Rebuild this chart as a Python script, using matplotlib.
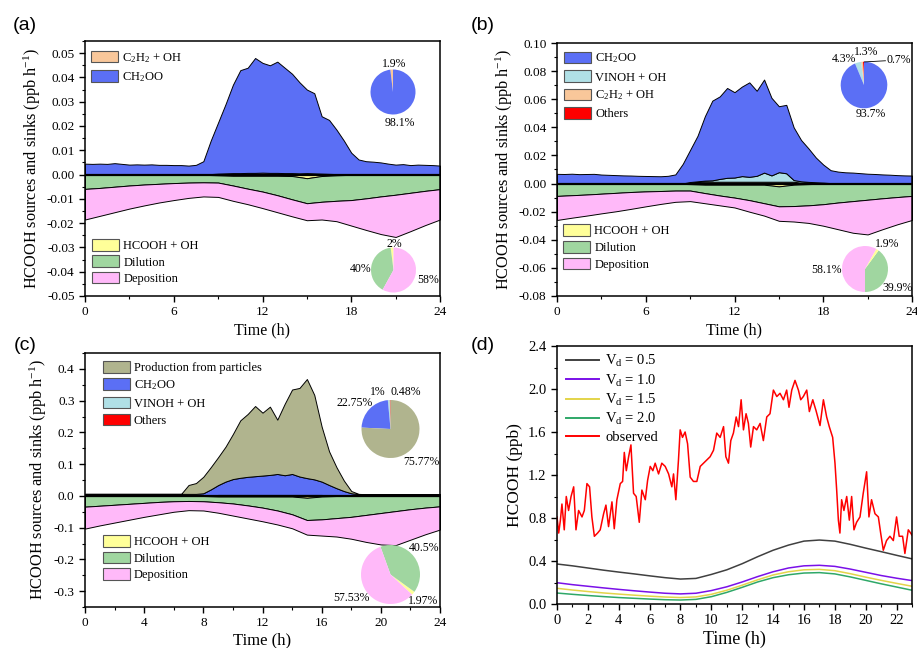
import numpy as np
import matplotlib.pyplot as plt
from matplotlib.patches import Patch
from matplotlib.lines import Line2D
from matplotlib.legend import Legend
from matplotlib.ticker import MultipleLocator, FuncFormatter

W, H = 917, 648

plt.rcParams["font.family"] = ["Liberation Serif", "DejaVu Serif"]
plt.rcParams["mathtext.fontset"] = "custom"
plt.rcParams["mathtext.rm"] = "Liberation Serif"
plt.rcParams["mathtext.it"] = "Liberation Serif:italic"
plt.rcParams["axes.unicode_minus"] = False

BLUE = "#5b6ff5"
ORANGE = "#f9c79a"
LIGHTBLUE = "#b0e0e6"
RED = "#ff0000"
YELLOW = "#ffff99"
GREEN = "#a0d6a0"
PINK = "#ffb9f9"
OLIVE = "#b0b48e"

# time axes
t_src = np.arange(0, 24.01, 0.5)   # sources, every 30 min
t_sink = np.arange(0, 25, 1)       # sinks, hourly
t_d = np.arange(0, 24, 1)

# ---- panel (a) ----
c2h2_a = [0.0] * 17 + [0.0002, 0.0004, 0.0005, 0.0006, 0.0006, 0.0007, 0.0007,
                       0.0008, 0.0007, 0.0007, 0.0006, 0.0006, 0.0005, 0.0006,
                       0.0005, 0.0004, 0.0003, 0.0002, 0.0001] + [0.0] * 13
ch2oo_a = [0.0045, 0.0044, 0.0045, 0.0044, 0.0047, 0.0044, 0.0041, 0.0042,
           0.0041, 0.0042, 0.0040, 0.0040, 0.0039, 0.0039, 0.0037, 0.0040,
           0.0055, 0.0138, 0.0211, 0.0285, 0.0364, 0.0424, 0.0433, 0.0473,
           0.0452, 0.0443, 0.0458, 0.0434, 0.0409, 0.0375, 0.0344, 0.0330,
           0.0236, 0.0222, 0.0183, 0.0139, 0.0090, 0.0062, 0.0055, 0.0053,
           0.0050, 0.0045, 0.0041, 0.0043, 0.0039, 0.0041, 0.0040, 0.0039,
           0.0037]
hcooh_a = [-0.0001] * 9 + [-0.0003, -0.0005, -0.0005, -0.0005, -0.0005,
                           -0.0006, -0.0015, -0.0006, -0.0003] + [-0.0001] * 7
dil_a = [-0.0058, -0.0054, -0.0049, -0.0044, -0.0040, -0.0037, -0.0034,
         -0.0032, -0.0031, -0.0030, -0.0040, -0.0053, -0.0065, -0.0080,
         -0.0096, -0.0103, -0.0106, -0.0105, -0.0104, -0.0097, -0.0089,
         -0.0082, -0.0074, -0.0066, -0.0059]
dep_a = [-0.0126, -0.0115, -0.0105, -0.0095, -0.0086, -0.0077, -0.0070,
         -0.0063, -0.0058, -0.0059, -0.0063, -0.0064, -0.0068, -0.0070,
         -0.0070, -0.0070, -0.0073, -0.0084, -0.0105, -0.0130, -0.0155,
         -0.0174, -0.0158, -0.0141, -0.0125]

# ---- panel (b) ----
others_b = [0.0001] * 20 + [0.0003] * 13 + [0.0001] * 16
c2h2_b = [0.0] * 18 + [0.001] * 15 + [0.0005] * 4 + [0.0001] * 12
vinoh_b = [0.0] * 19 + [0.0005, 0.0008, 0.0010, 0.0020, 0.0028, 0.0030,
                        0.0040, 0.0035, 0.0042, 0.0065, 0.0045, 0.0068,
                        0.0060, 0.0012, 0.0010, 0.0006, 0.0003, 0.0001] + [0.0001] * 12
ch2oo_b = [0.0068, 0.0067, 0.0069, 0.0066, 0.0067, 0.0068, 0.0063, 0.0061,
           0.0059, 0.0057, 0.0056, 0.0054, 0.0053, 0.0052, 0.0051, 0.0054,
           0.0064, 0.0139, 0.0229, 0.0324, 0.0459, 0.0567, 0.0587, 0.0639,
           0.0607, 0.0637, 0.0672, 0.0605, 0.0662, 0.0552, 0.0469, 0.0487,
           0.0375, 0.0294, 0.0238, 0.0176, 0.0128, 0.0092, 0.0082, 0.0077,
           0.0075, 0.0071, 0.0067, 0.0065, 0.0062, 0.0060, 0.0057, 0.0055,
           0.0054]
hcooh_b = [-0.0001] * 9 + [-0.0004, -0.0008, -0.0008, -0.0008, -0.0008,
                           -0.0008, -0.0020, -0.0008, -0.0004] + [-0.0001] * 7
dil_b = [-0.0087, -0.0082, -0.0077, -0.0071, -0.0065, -0.0059, -0.0055,
         -0.0052, -0.0049, -0.0046, -0.0060, -0.0077, -0.0092, -0.0110,
         -0.0132, -0.0142, -0.0152, -0.0151, -0.0146, -0.0134, -0.0124,
         -0.0114, -0.0104, -0.0095, -0.0087]
dep_b = [-0.0171, -0.0160, -0.0150, -0.0140, -0.0131, -0.0120, -0.0106,
         -0.0092, -0.0080, -0.0075, -0.0072, -0.0070, -0.0070, -0.0082,
         -0.0088, -0.0103, -0.0110, -0.0125, -0.0153, -0.0190, -0.0225,
         -0.0247, -0.0220, -0.0194, -0.0171]

# ---- panel (c) ----
others_c = [0.0003] * 18 + [0.001] * 15 + [0.0003] * 16
vinoh_c = [0.0] * 18 + [0.002] * 15 + [0.0] * 16
ch2oo_c = [0.006] * 16 + [0.008, 0.020, 0.031, 0.042, 0.050, 0.054, 0.057,
                          0.059, 0.061, 0.063, 0.066, 0.062, 0.066, 0.058,
                          0.053, 0.049, 0.042, 0.034, 0.024, 0.015, 0.008] + [0.005] * 8 + [0.0045] * 4
particles_c = [0.0] * 14 + [0.028, 0.034, 0.052, 0.070, 0.088, 0.110, 0.142,
                            0.181, 0.198, 0.221, 0.198, 0.215, 0.171, 0.225,
                            0.266, 0.279, 0.312, 0.266, 0.173, 0.106, 0.066,
                            0.033, 0.007, 0.001] + [0.0] * 11
hcooh_c = [-0.0005] * 9 + [-0.002] * 6 + [-0.006, -0.002] + [-0.0005] * 8
dil_c = [-0.0335, -0.0305, -0.0275, -0.0245, -0.0215, -0.0185, -0.0165,
         -0.0155, -0.0165, -0.018, -0.022, -0.028, -0.035, -0.044, -0.056,
         -0.070, -0.072, -0.0695, -0.0655, -0.0595, -0.0535, -0.0475,
         -0.0415, -0.0365, -0.0325]
dep_c = [-0.069, -0.062, -0.056, -0.050, -0.044, -0.039, -0.033, -0.029,
         -0.029, -0.033, -0.038, -0.041, -0.043, -0.044, -0.044, -0.046,
         -0.051, -0.058, -0.069, -0.085, -0.099, -0.107, -0.096, -0.084,
         -0.073]

# ---- panel (d) ----
vd05 = [0.372, 0.355, 0.335, 0.315, 0.297, 0.280, 0.262, 0.245, 0.232, 0.238,
        0.275, 0.318, 0.375, 0.440, 0.500, 0.548, 0.585, 0.595, 0.585, 0.555,
        0.520, 0.487, 0.453, 0.420]
vd10 = [0.198, 0.180, 0.165, 0.150, 0.136, 0.123, 0.111, 0.100, 0.094, 0.100,
        0.125, 0.160, 0.205, 0.255, 0.300, 0.335, 0.355, 0.360, 0.350, 0.325,
        0.295, 0.265, 0.240, 0.218]
vd15 = [0.146, 0.130, 0.116, 0.103, 0.092, 0.082, 0.073, 0.065, 0.060, 0.066,
        0.090, 0.128, 0.175, 0.225, 0.270, 0.300, 0.318, 0.322, 0.310, 0.282,
        0.250, 0.220, 0.192, 0.165]
vd20 = [0.102, 0.090, 0.079, 0.069, 0.060, 0.053, 0.046, 0.040, 0.037, 0.043,
        0.068, 0.108, 0.155, 0.205, 0.245, 0.272, 0.288, 0.292, 0.280, 0.252,
        0.220, 0.188, 0.158, 0.128]
obs_t = [0.00, 0.11, 0.22, 0.32, 0.47, 0.60, 0.75, 0.91, 1.08, 1.23, 1.40, 1.62,
         1.77, 1.94, 2.11, 2.26, 2.42, 2.63, 2.80, 3.02, 3.17, 3.34, 3.56, 3.71,
         3.88, 4.10, 4.25, 4.36, 4.49, 4.64, 4.79, 4.96, 5.13, 5.33, 5.50, 5.72,
         5.87, 6.04, 6.21, 6.36, 6.58, 6.79, 7.01, 7.23, 7.44, 7.55, 7.70, 7.87,
         7.98, 8.13, 8.30, 8.46, 8.63, 8.84, 9.06, 9.28, 9.49, 9.71, 9.92, 10.14,
         10.35, 10.57, 10.79, 10.94, 11.11, 11.26, 11.43, 11.61, 11.76, 11.93,
         12.08, 12.25, 12.40, 12.55, 12.73, 12.94, 13.16, 13.37, 13.59, 13.80,
         14.02, 14.24, 14.45, 14.67, 14.88, 15.03, 15.21, 15.42, 15.64, 15.79,
         15.96, 16.18, 16.35, 16.57, 16.78, 17.04, 17.26, 17.47, 17.64, 17.86,
         18.01, 18.12, 18.23, 18.33, 18.44, 18.59, 18.77, 18.94, 19.09, 19.24,
         19.41, 19.63, 19.84, 20.06, 20.21, 20.38, 20.60, 20.82, 20.97, 21.14,
         21.35, 21.57, 21.79, 22.00, 22.17, 22.39, 22.54, 22.76, 22.91, 23.00]
obs_v = [0.81, 0.66, 0.78, 0.93, 0.69, 1.00, 0.87, 1.00, 1.09, 0.69, 0.87, 0.81,
         0.87, 1.12, 1.09, 0.81, 0.63, 0.66, 0.69, 0.84, 0.92, 0.72, 0.95, 0.70,
         0.97, 1.12, 1.14, 1.41, 1.24, 1.37, 1.48, 1.03, 1.00, 0.76, 1.06, 0.97,
         1.15, 1.28, 1.24, 1.31, 1.21, 1.31, 1.28, 1.21, 1.09, 1.21, 0.97, 1.34,
         1.62, 1.55, 1.60, 1.49, 1.18, 1.14, 1.14, 1.28, 1.31, 1.34, 1.37, 1.43,
         1.59, 1.55, 1.65, 1.37, 1.31, 1.52, 1.59, 1.74, 1.65, 1.90, 1.62, 1.77,
         1.68, 1.46, 1.65, 1.62, 1.68, 1.52, 1.74, 1.77, 1.99, 1.93, 1.96, 1.90,
         1.99, 1.83, 1.99, 2.08, 1.99, 1.90, 1.93, 1.99, 1.79, 1.90, 1.80, 1.66,
         1.90, 1.74, 1.65, 1.55, 1.31, 1.06, 0.78, 0.66, 0.97, 0.87, 1.00, 0.78,
         1.00, 0.69, 0.76, 0.81, 1.03, 1.23, 0.81, 0.97, 0.84, 0.81, 0.66, 0.50,
         0.59, 0.63, 0.59, 0.81, 0.63, 0.63, 0.47, 0.69, 0.66, 0.64]


def px_axes(fig, left, top, right, bottom):
    return fig.add_axes([left / W, 1 - bottom / H, (right - left) / W, (bottom - top) / H])


def tick_fmt(decimals):
    def f(v, pos):
        if abs(v) < 1e-9:
            v = 0.0
        return f"{v:.{decimals}f}"
    return FuncFormatter(f)


def style_axes(ax, labelsize):
    for s in ax.spines.values():
        s.set_linewidth(1.1)
    ax.tick_params(which="major", direction="out", length=4, width=1.0,
                   labelsize=labelsize, top=False, right=False)
    ax.tick_params(which="minor", direction="out", length=2.2, width=0.8,
                   top=False, right=False)


def draw_budget(ax, sources, src_colors, sinks, sink_colors):
    ax.stackplot(t_src, *sources, colors=src_colors, edgecolor="black", linewidth=0.7)
    ax.stackplot(t_sink, *sinks, colors=sink_colors, edgecolor="black", linewidth=0.7)
    ax.axhline(0, color="black", lw=1.6)


def patch_legend(ax, labels, colors, x, y, spacing):
    handles = [Patch(facecolor=c, edgecolor="#555555", linewidth=0.8) for c in colors]
    leg = Legend(ax, handles, labels, loc="upper left", bbox_to_anchor=(x, y),
                 frameon=False, fontsize=9, borderpad=0, borderaxespad=0,
                 handlelength=2.15, handleheight=1.05, handletextpad=0.35,
                 labelspacing=spacing)
    ax.add_artist(leg)


def add_pie(fig, cx, cy, r, values, colors, start, labels, fs=8.5):
    pax = fig.add_axes([(cx - r) / W, 1 - (cy + r) / H, 2 * r / W, 2 * r / H])
    pax.pie(values, colors=colors, startangle=start, counterclock=True,
            radius=1, wedgeprops=dict(linewidth=0))
    pax.set_xlim(-1, 1)
    pax.set_ylim(-1, 1)
    pax.set_aspect("equal")
    pax.axis("off")
    for text, dx, dy in labels:
        pax.text(dx, dy, text, ha="center", va="center", fontsize=fs, clip_on=False)
    return pax


def budget_axes(ax, ylim, ymajor, yminor, xmajor, decimals):
    ax.set_xlim(0, 24)
    ax.set_ylim(*ylim)
    ax.xaxis.set_major_locator(MultipleLocator(xmajor))
    ax.xaxis.set_minor_locator(MultipleLocator(xmajor / 2))
    ax.yaxis.set_major_locator(MultipleLocator(ymajor))
    ax.yaxis.set_minor_locator(MultipleLocator(yminor))
    ax.yaxis.set_major_formatter(tick_fmt(decimals))
    ax.set_xlabel("Time (h)", fontsize=11.5, labelpad=3)
    ax.set_ylabel("HCOOH sources and sinks (ppb h$^{-1}$)", fontsize=11.7, labelpad=3)
    style_axes(ax, 9.5)


def main():
    fig = plt.figure(figsize=(W / 100, H / 100), dpi=100)

    # (a)
    ax = px_axes(fig, 85, 41, 440, 296)
    draw_budget(ax, [c2h2_a, ch2oo_a], [ORANGE, BLUE],
                [hcooh_a, dil_a, dep_a], [YELLOW, GREEN, PINK])
    budget_axes(ax, (-0.05, 0.055), 0.01, 0.005, 6, 2)
    patch_legend(ax, ["C$_2$H$_2$ + OH", "CH$_2$OO"], [ORANGE, BLUE], 0.017, 0.962, 0.45)
    patch_legend(ax, ["HCOOH + OH", "Dilution", "Deposition"], [YELLOW, GREEN, PINK],
                 0.02, 0.222, 0.24)
    add_pie(fig, 393, 92, 22.5, [1.9, 98.1], [ORANGE, BLUE], 90,
            [("1.9%", 0.05, 1.24), ("98.1%", 0.31, -1.38)])
    add_pie(fig, 393.5, 270, 22.5, [2, 40, 58], [YELLOW, GREEN, PINK], 90,
            [("2%", 0.05, 1.15), ("40%", -1.47, 0.04), ("58%", 1.53, -0.44)])

    # (b)
    ax = px_axes(fig, 557, 43, 912, 296)
    draw_budget(ax, [others_b, c2h2_b, vinoh_b, ch2oo_b], [RED, ORANGE, LIGHTBLUE, BLUE],
                [hcooh_b, dil_b, dep_b], [YELLOW, GREEN, PINK])
    budget_axes(ax, (-0.08, 0.10), 0.02, 0.01, 6, 2)
    patch_legend(ax, ["CH$_2$OO", "VINOH + OH", "C$_2$H$_2$ + OH", "Others"],
                 [BLUE, LIGHTBLUE, ORANGE, RED], 0.02, 0.966, 0.4)
    patch_legend(ax, ["HCOOH + OH", "Dilution", "Deposition"], [YELLOW, GREEN, PINK],
                 0.017, 0.283, 0.28)
    pax = add_pie(fig, 864, 85, 23.3, [0.7, 1.3, 4.3, 93.7], [RED, ORANGE, LIGHTBLUE, BLUE], 90,
                  [("4.3%", -0.86, 1.12), ("1.3%", 0.11, 1.43), ("93.7%", 0.29, -1.26)])
    pax.plot([0.02, 0.92], [0.99, 1.04], color="black", lw=0.6, clip_on=False)
    pax.text(0.95, 1.07, "0.7%", ha="left", va="center", fontsize=8.5, clip_on=False)
    add_pie(fig, 865, 269, 23, [39.9, 1.9, 58.1], [GREEN, YELLOW, PINK], 270,
            [("1.9%", 0.98, 1.07), ("58.1%", -1.66, -0.04), ("39.9%", 1.42, -0.84)])

    # (c)
    ax = px_axes(fig, 85, 353, 440, 607)
    draw_budget(ax, [others_c, vinoh_c, ch2oo_c, particles_c], [RED, LIGHTBLUE, BLUE, OLIVE],
                [hcooh_c, dil_c, dep_c], [YELLOW, GREEN, PINK])
    budget_axes(ax, (-0.35, 0.45), 0.1, 0.05, 4, 1)
    ax.set_xlabel("Time (h)", fontsize=12, labelpad=2)
    patch_legend(ax, ["Production from particles", "CH$_2$OO", "VINOH + OH", "Others"],
                 [OLIVE, BLUE, LIGHTBLUE, RED], 0.05, 0.968, 0.34)
    patch_legend(ax, ["HCOOH + OH", "Dilution", "Deposition"], [YELLOW, GREEN, PINK],
                 0.05, 0.283, 0.28)
    add_pie(fig, 390.5, 429, 29, [0.48, 1, 22.75, 75.77], [RED, LIGHTBLUE, BLUE, OLIVE], 90,
            [("1%", -0.43, 1.29), ("0.48%", 0.51, 1.29), ("22.75%", -1.25, 0.91),
             ("75.77%", 1.07, -1.15)])
    add_pie(fig, 390.5, 574.5, 29.5, [1.97, 40.5, 57.53], [YELLOW, GREEN, PINK], -43,
            [("40.5%", 1.14, 0.89), ("57.53%", -1.34, -0.79), ("1.97%", 1.11, -0.9)])

    # (d)
    ax = px_axes(fig, 557, 346, 912, 604)
    line_colors = ["#404040", "#7a10e8", "#e3d449", "#2fa868", RED]
    for series, c in zip([vd05, vd10, vd15, vd20], line_colors):
        ax.plot(t_d, series, color=c, lw=1.1)
    ax.plot(obs_t, obs_v, color=RED, lw=1.1)
    ax.set_xlim(0, 23)
    ax.set_ylim(0, 2.4)
    ax.xaxis.set_major_locator(MultipleLocator(2))
    ax.xaxis.set_minor_locator(MultipleLocator(1))
    ax.yaxis.set_major_locator(MultipleLocator(0.4))
    ax.yaxis.set_minor_locator(MultipleLocator(0.2))
    ax.yaxis.set_major_formatter(tick_fmt(1))
    ax.set_xlabel("Time (h)", fontsize=13, labelpad=2)
    ax.set_ylabel("HCOOH (ppb)", fontsize=12.5, labelpad=4)
    style_axes(ax, 10.5)
    handles = [Line2D([], [], color=c, lw=1.4) for c in line_colors]
    labels = ["V$_\\mathrm{d}$ = 0.5", "V$_\\mathrm{d}$ = 1.0", "V$_\\mathrm{d}$ = 1.5",
              "V$_\\mathrm{d}$ = 2.0", "observed"]
    ax.legend(handles, labels, loc="upper left", bbox_to_anchor=(0.025, 0.972),
              frameon=False, fontsize=10.5, borderpad=0, borderaxespad=0,
              handlelength=2.3, handletextpad=0.4, labelspacing=0.22)

    for label, x, y in [("(a)", 25, 25), ("(b)", 483, 25), ("(c)", 25, 345), ("(d)", 483, 345)]:
        fig.text(x / W, 1 - y / H, label, ha="center", va="center",
                 fontsize=14, family="Liberation Sans")

    fig.savefig("out.png", dpi=100)
    plt.close(fig)


if __name__ == "__main__":
    main()
